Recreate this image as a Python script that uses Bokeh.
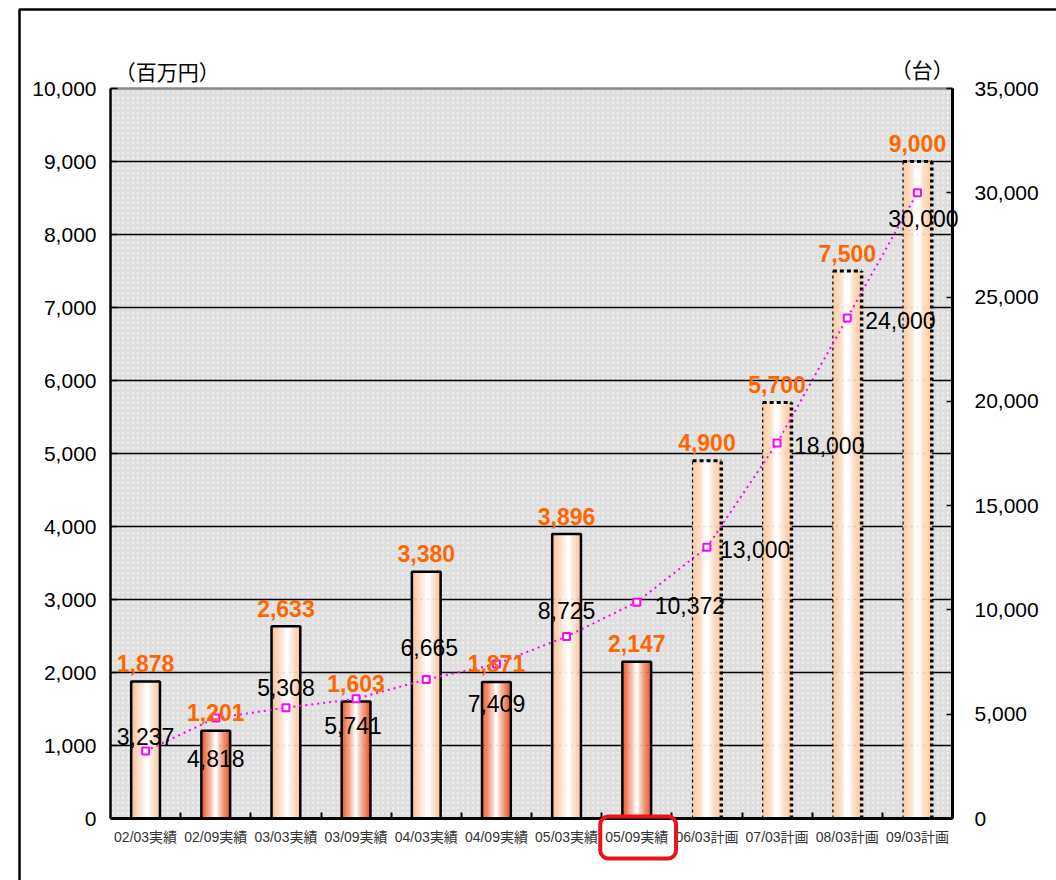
import numpy as np
from bokeh.plotting import figure
from bokeh.models import (ColumnDataSource, Range1d, LinearAxis, FixedTicker,
                          NumeralTickFormatter, BoxAnnotation, Label)
from bokeh.transform import dodge
from bokeh.embed import file_html
from bokeh.resources import INLINE

# ---- data -------------------------------------------------------------
periods = ["02/03実績", "02/09実績", "03/03実績", "03/09実績", "04/03実績", "04/09実績",
           "05/03実績", "05/09実績", "06/03計画", "07/03計画", "08/03計画", "09/03計画"]
sales = [1878, 1201, 2633, 1603, 3380, 1871, 3896, 2147, 4900, 5700, 7500, 9000]      # 百万円
units = [3237, 4818, 5308, 5741, 6665, 7409, 8725, 10372, 13000, 18000, 24000, 30000]  # 台
kind = ["mar", "sep", "mar", "sep", "mar", "sep", "mar", "sep", "plan", "plan", "plan", "plan"]
sales_ticks = list(range(0, 10001, 1000))
units_ticks = list(range(0, 35001, 5000))
highlight = "05/09実績"

# ---- label placement for the unit counts (align, dx px, dy px) ---------
unit_label_place = [("center", 0, -14), ("center", 0, 40), ("center", 0, -20),
                    ("center", -3, 27), ("center", 3, -32), ("center", 0, 40),
                    ("center", 0, -26), ("left", 18, 3), ("left", 13, 2),
                    ("left", 17, 2), ("left", 18, 3), ("center", 6, 26)]

n = len(periods)
xc = np.arange(n) + 0.5
BW = 0.41
NUM_FONT = "Liberation Sans"
JP_FONT = "Noto Sans CJK JP"

# The plotting frame covers the whole canvas; the chart area sits inside it
# (x: 0..n, y: 0..max tick) and axes are pinned with fixed_location.
W, H = 1056, 880
AREA_L, AREA_R, AREA_T, AREA_B = 110, 952, 88, 818
sx = (AREA_R - AREA_L) / n                    # px per period
sy = (AREA_B - AREA_T) / sales_ticks[-1]      # px per 百万円
su = (AREA_B - AREA_T) / units_ticks[-1]      # px per 台

p = figure(width=W, height=H, output_backend="svg", toolbar_location=None,
           x_range=Range1d(-AREA_L / sx, (W - AREA_L) / sx),
           y_range=Range1d(-(H - AREA_B) / sy, AREA_B / sy),
           min_border=0, background_fill_color="white",
           border_fill_color="white", outline_line_color=None,
           x_axis_type=None, y_axis_type=None)
p.extra_y_ranges = {"units": Range1d(-(H - AREA_B) / su, AREA_B / su)}
p.grid.visible = False

# grey speckled chart area
p.quad(left=0, right=n, bottom=0, top=sales_ticks[-1], fill_color="#dedede",
       line_color=None)
p.quad(left=0, right=n, bottom=0, top=sales_ticks[-1], fill_color=None,
       line_color=None, hatch_pattern="dot", hatch_color="white",
       hatch_scale=5, hatch_alpha=0.45, hatch_weight=1)
# horizontal grid lines and the grey top edge
grid = sales_ticks[1:-1]
p.segment(x0=0, x1=n, y0=grid, y1=grid, line_color="black", line_width=1.5)
p.segment(x0=0, x1=n, y0=sales_ticks[-1], y1=sales_ticks[-1],
          line_color="#888888", line_width=2.5)


# ---- cylinder-like bars built from narrow vertical stripes --------------
def hex2rgb(h):
    h = h.lstrip("#")
    return np.array([int(h[i:i + 2], 16) for i in (0, 2, 4)], dtype=float)


def shade(edge_l, edge_r, centre, flat, gamma, count=24):
    cols = []
    for i in range(count):
        t = (i + 0.5) / count
        half = centre if t < centre else 1 - centre
        f = np.clip((abs(t - centre) - flat) / (half - flat), 0, 1) ** gamma
        edge = hex2rgb(edge_l if t < centre else edge_r)
        c = (1 - f) * 255 + f * edge
        cols.append("#%02x%02x%02x" % tuple(int(round(v)) for v in c))
    return cols


styles = {
    "mar": shade("#f7bd90", "#f8c299", 0.56, 0.04, 0.9),
    "sep": shade("#ec5524", "#e8501e", 0.5, 0.04, 0.75),
    "plan": shade("#fccca2", "#fccca2", 0.5, 0.10, 0.45),
}

src = {}
for k in ("mar", "sep", "plan"):
    idx = [i for i in range(n) if kind[i] == k]
    src[k] = ColumnDataSource(dict(x=xc[idx], sales=[sales[i] for i in idx]))
    cols = styles[k]
    sw = BW / len(cols)
    for i, col in enumerate(cols):
        off = -BW / 2 + (i + 0.5) * sw
        p.vbar(x=dodge("x", off), top="sales", width=sw * 1.3, source=src[k],
               fill_color=col, line_color=None)

# solid outlines for results
for k in ("mar", "sep"):
    p.vbar(x="x", top="sales", width=BW, source=src[k], fill_color=None,
           line_color="black", line_width=2.5)

# dotted outlines for plans
p.segment(x0=dodge("x", -BW / 2), y0=0, x1=dodge("x", -BW / 2), y1="sales",
          source=src["plan"], line_color="black", line_width=1.2, line_dash="3 3")
p.segment(x0=dodge("x", BW / 2), y0=0, x1=dodge("x", BW / 2), y1="sales",
          source=src["plan"], line_color="black", line_width=3.5, line_dash="3 3")
p.segment(x0=dodge("x", -BW / 2), y0="sales", x1=dodge("x", BW / 2), y1="sales",
          source=src["plan"], line_color="black", line_width=3, line_dash="4 3")

# ---- axes -------------------------------------------------------------------
ya = LinearAxis(fixed_location=0, bounds=(0, sales_ticks[-1]),
                ticker=FixedTicker(ticks=sales_ticks),
                formatter=NumeralTickFormatter(format="0,0"))
ya.axis_line_width = 2.5
ya.major_tick_in = 7
ya.major_tick_out = 0
ya.major_tick_line_width = 1.5
ya.minor_tick_line_color = None
ya.major_label_standoff = 14
ya.major_label_text_font = NUM_FONT
ya.major_label_text_font_size = "21px"
ya.major_label_text_color = "black"
p.add_layout(ya, "left")

ra = LinearAxis(y_range_name="units", fixed_location=n,
                bounds=(0, units_ticks[-1]),
                ticker=FixedTicker(ticks=units_ticks),
                formatter=NumeralTickFormatter(format="0,0"))
ra.axis_line_width = 3
ra.major_tick_in = 6
ra.major_tick_out = 0
ra.major_tick_line_width = 1.5
ra.minor_tick_line_color = None
ra.major_label_standoff = 22
ra.major_label_text_font = NUM_FONT
ra.major_label_text_font_size = "21px"
ra.major_label_text_color = "black"
p.add_layout(ra, "right")

xa = LinearAxis(fixed_location=0, bounds=(0, n),
                ticker=FixedTicker(ticks=list(xc), minor_ticks=list(range(1, n))))
xa.major_label_overrides = {float(x): lab for x, lab in zip(xc, periods)}
xa.major_tick_in = 0
xa.major_tick_out = 0
xa.minor_tick_in = 6
xa.minor_tick_out = 0
xa.minor_tick_line_color = "black"
xa.minor_tick_line_width = 2
xa.axis_line_width = 3
xa.major_label_standoff = 10
xa.major_label_text_font = f"{NUM_FONT}, {JP_FONT}"
xa.major_label_text_font_size = "14px"
xa.major_label_text_color = "#333333"
p.add_layout(xa, "below")

# ---- units line -----------------------------------------------------------
usrc = ColumnDataSource(dict(x=xc, units=units))
p.line("x", "units", source=usrc, y_range_name="units", line_color="#ff00ff",
       line_width=2, line_dash="2 4")
p.scatter("x", "units", source=usrc, y_range_name="units", marker="square",
          size=7, line_color="#ff00ff", line_width=2, fill_color="white")

# ---- value labels -----------------------------------------------------------
ssrc = ColumnDataSource(dict(x=xc, sales=sales, lbl=[f"{v:,}" for v in sales]))
p.text("x", "sales", text="lbl", source=ssrc, text_align="center",
       text_baseline="middle", y_offset=-18, text_color="#ff6600",
       text_font=dict(value=NUM_FONT), text_font_style="bold",
       text_font_size="23px")

for align in ("center", "left"):
    ids = [i for i in range(n) if unit_label_place[i][0] == align]
    lsrc = ColumnDataSource(dict(
        x=xc[ids], units=[units[i] for i in ids],
        lbl=[f"{units[i]:,}" for i in ids],
        dx=[unit_label_place[i][1] for i in ids],
        dy=[unit_label_place[i][2] for i in ids]))
    p.text("x", "units", text="lbl", source=lsrc, y_range_name="units",
           x_offset="dx", y_offset="dy", text_align=align,
           text_baseline="middle", text_color="black",
           text_font=dict(value=NUM_FONT), text_font_size="23px")

# ---- axis captions, highlight box and outer frame ---------------------------
p.add_layout(Label(x=0.81, y=sales_ticks[-1] + 18 / sy, text="（百万円）",
                   text_align="center", text_baseline="middle",
                   text_font=JP_FONT, text_font_size="21px", text_color="black"))
p.add_layout(Label(x=11.57, y=sales_ticks[-1] + 20 / sy, text="（台）",
                   text_align="center", text_baseline="middle",
                   text_font=JP_FONT, text_font_size="21px", text_color="black"))

hi = periods.index(highlight)
p.add_layout(BoxAnnotation(left=xc[hi] - 0.52, right=xc[hi] + 0.56,
                           top=2 / sy, bottom=-40 / sy, fill_alpha=0,
                           line_color="#e8141b", line_alpha=1, line_width=4,
                           border_radius=8, level="overlay"))
p.add_layout(BoxAnnotation(left=(19 - AREA_L) / sx, right=(W + 20 - AREA_L) / sx,
                           top=(AREA_B - 9) / sy, bottom=-(H + 20 - AREA_B) / sy,
                           fill_alpha=0, line_color="black", line_alpha=1,
                           line_width=2.5, level="overlay"))

open("out.html", "w").write(file_html(p, INLINE))
